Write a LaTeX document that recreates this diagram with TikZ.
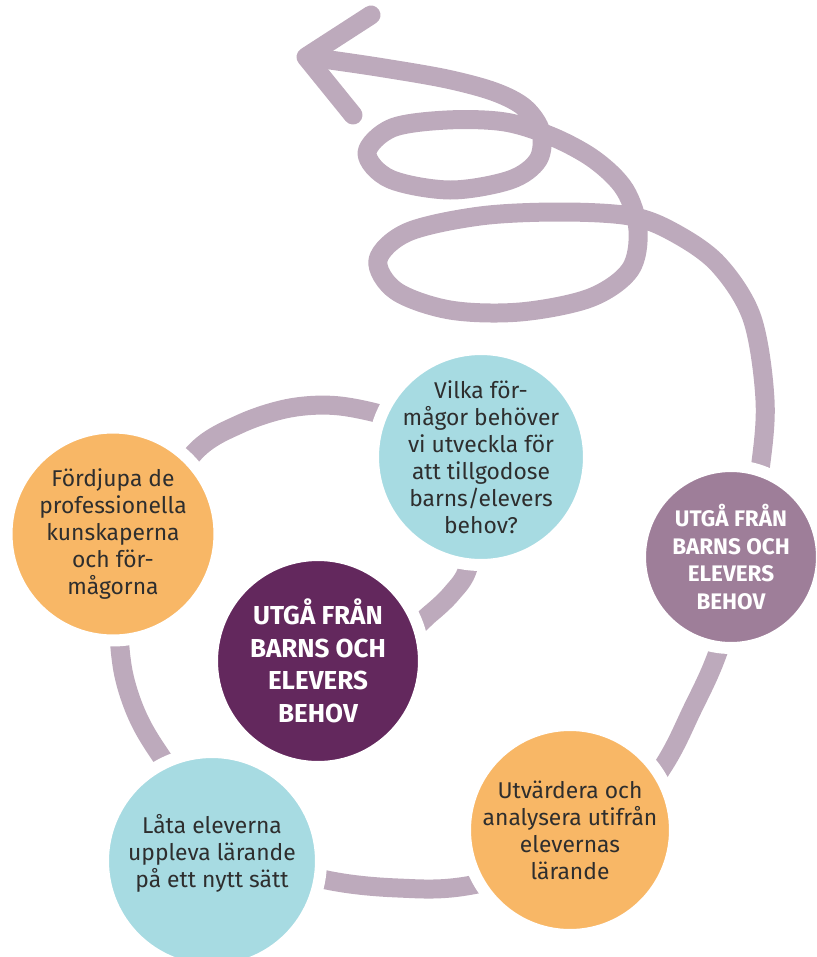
\documentclass[tikz,border=0pt]{standalone}
\usepackage{fontspec}
\setmainfont{Fira Sans}
\usetikzlibrary{backgrounds}

\definecolor{bandcol}{HTML}{BDAABC}
\definecolor{tealcol}{HTML}{A7DBE2}
\definecolor{orangecol}{HTML}{F8B766}
\definecolor{plumcol}{HTML}{63285D}
\definecolor{mauvecol}{HTML}{9E7E99}
\definecolor{inkcol}{HTML}{2E2E2E}

\tikzset{
  disc/.style={circle, draw=white, line width=0.24cm, inner sep=0pt, minimum size=#1},
  words/.style={align=center, inner sep=0pt, text=inkcol, font=\fontsize{13}{15.4}\selectfont},
  shout/.style={align=center, inner sep=0pt, text=white, font=\bfseries\fontsize{14.8}{18.5}\selectfont},
  band/.style={draw=bandcol, line width=0.38cm, line join=round},
}

\begin{document}
\begin{tikzpicture}[x=0.02cm, y=-0.02cm]
	\useasboundingbox (0,0) rectangle (817,957);
	
	% the six circles
	\node [disc=4.32cm, fill=tealcol] (ask) at (481,457) {};
	\node [disc=4.26cm, fill=orangecol] (deepen) at (113,534) {};
	\node [disc=4.24cm, fill=plumcol] (core) at (318,661) {};
	\node [disc=3.64cm, fill=mauvecol] (start) at (731,557) {};
	\node [disc=4.2cm, fill=orangecol] (evaluate) at (570,830) {};
	\node [disc=4.36cm, fill=tealcol] (experience) at (212,861) {};
	
	\node [words] (ask-t) at (ask) {Vilka för-\\mågor behöver\\vi utveckla för\\att tillgodose\\barns/elevers\\behov?};
	\node [words] (deepen-t) at (deepen) {Fördjupa de\\professionella\\kunskaperna\\och för-\\mågorna};
	\node [shout] (core-t) at (core) {UTGÅ FRÅN\\BARNS OCH\\ELEVERS\\BEHOV};
	\node [shout, font=\bfseries\fontsize{12.8}{15.9}\selectfont] (start-t) at (start) {UTGÅ FRÅN\\BARNS OCH\\ELEVERS\\BEHOV};
	\node [words] (evaluate-t) at (evaluate) {Utvärdera och\\analysera utifrån\\elevernas\\lärande};
	\node [words] (experience-t) at ([yshift=0.15cm]experience) {Låta eleverna\\uppleva lärande\\på ett nytt sätt};
	
	% the winding band behind the circles
	\begin{scope}[on background layer]
		\draw [band] plot [smooth, tension=0.55] coordinates {
			(core.center) (400,636) (430,614) (452,593) (468,568) (478,510)
			(450,445) (400,420) (340,406) (290,408) (240,424) (195,452)
			(150,520) (122,610) (122,665) (137,715) (165,762) (230,850)
			(322,879) (398,888) (472,885) (600,850) (662,768) (692,710)
			(718,652) (745,560) (760,470) (765,400) (752,318) (718,264)
			(673,232) (630,216) (560,212) (480,216) (408,232) (378,260)
			(396,291) (450,310) (520,312) (590,298) (630,270) (638,230)
			(625,190) (595,160) (553,137) (505,122) (447,120) (392,128)
			(367,153) (390,179) (450,190) (510,180) (538,160) (541,132)
			(525,108) (495,92) (447,79) (384,68) (330,60) (312,58)};
		\draw [band, line cap=round] (371,15) -- (306,57) -- (353,115);
	\end{scope}
\end{tikzpicture}
\end{document}
